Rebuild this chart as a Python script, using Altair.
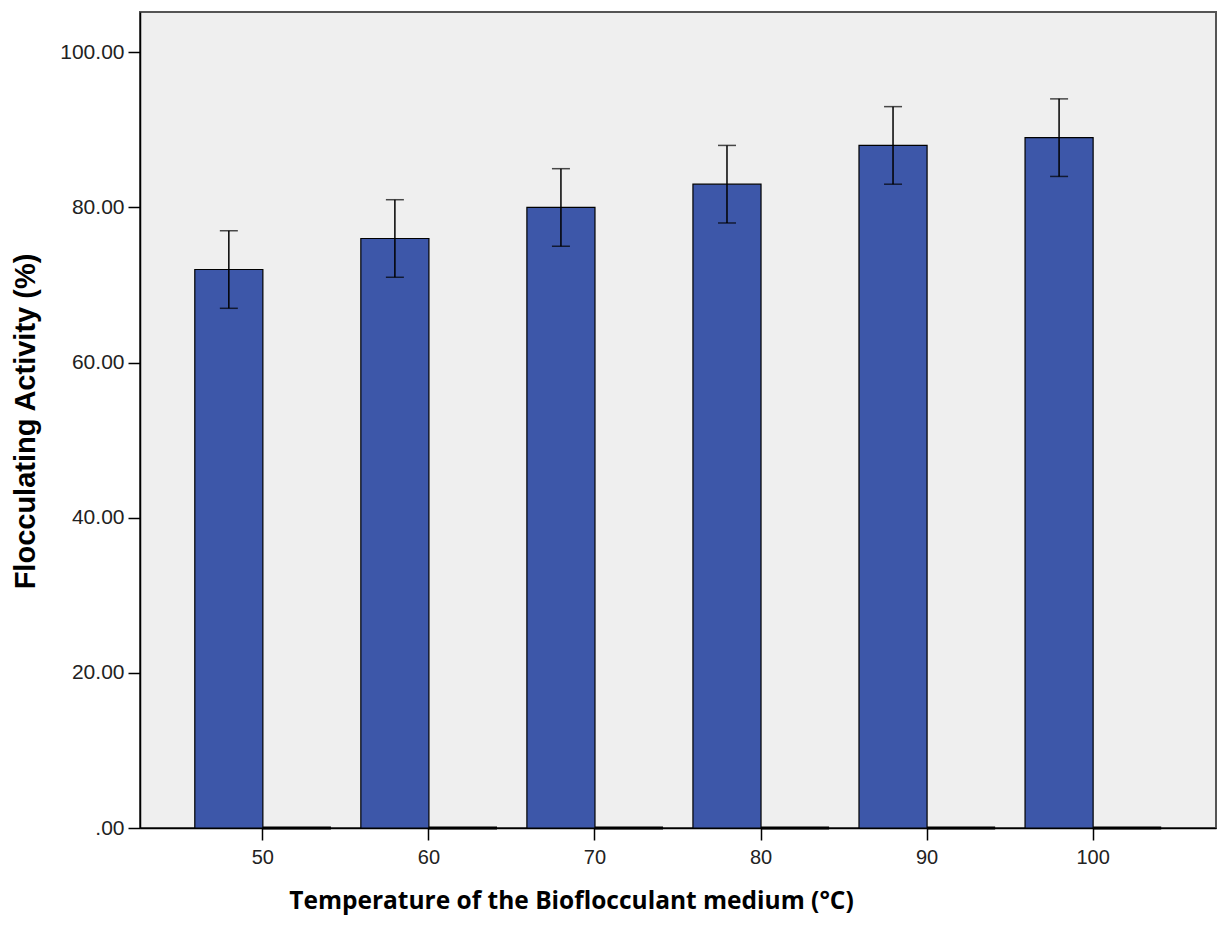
import altair as alt
import pandas as pd

temps = ["50", "60", "70", "80", "90", "100"]
activity = [72.0, 76.0, 80.0, 83.0, 88.0, 89.0]
err_low = [67.0, 71.0, 75.0, 78.0, 83.0, 84.0]
err_high = [77.0, 81.0, 85.0, 88.0, 93.0, 94.0]
second_series = [0.0, 0.0, 0.0, 0.0, 0.0, 0.0]

bars = pd.DataFrame(
    [{"temp": t, "series": "A", "value": v} for t, v in zip(temps, activity)]
    + [{"temp": t, "series": "B", "value": v} for t, v in zip(temps, second_series)]
)
errs = pd.DataFrame({"temp": temps, "series": ["A"] * 6, "lo": err_low, "hi": err_high})

xenc = alt.X(
    "temp:N",
    sort=temps,
    scale=alt.Scale(paddingInner=0.18, paddingOuter=0.33),
    axis=alt.Axis(
        title="Temperature of the Bioflocculant medium (°C)",
        titleFont="Open Sans",
        titleFontSize=24.5,
        titleFontWeight="bold",
        titleColor="black",
        titleX=431,
        titleY=61,
        titleAlign="center",
        titleBaseline="top",
        labelFont="Liberation Sans",
        labelFontSize=20,
        labelColor="#222",
        labelPadding=7,
        labelAngle=0,
        tickSize=12,
        tickColor="black",
        tickWidth=1.5,
        domainColor="black",
        domainWidth=1.5,
    ),
)
xoff = alt.XOffset("series:N", scale=alt.Scale(domain=["A", "B"], paddingInner=0, paddingOuter=0))

yscale = alt.Scale(domain=[0, 105.2], nice=False, zero=True)

bar = alt.Chart(bars).mark_bar(stroke="black", strokeWidth=1.2).encode(
    x=xenc,
    xOffset=xoff,
    y=alt.Y(
        "value:Q",
        scale=yscale,
        axis=alt.Axis(
            title="Flocculating Activity (%)",
            titleFont="Liberation Sans",
            titleFontSize=29,
            titleFontWeight="bold",
            titleColor="black",
            titleAngle=270,
            titleX=-106,
            titleY=409,
            titleAlign="center",
            titleBaseline="alphabetic",
            values=[0, 20, 40, 60, 80, 100],
            labelExpr="datum.value == 0 ? '.00' : format(datum.value, '.2f')",
            labelFont="Liberation Sans",
            labelFontSize=21,
            labelColor="#222",
            labelPadding=4,
            tickSize=12,
            tickColor="black",
            tickWidth=1.5,
            domainColor="black",
            domainWidth=1.5,
            grid=False,
        ),
    ),
    color=alt.Color(
        "series:N",
        scale=alt.Scale(domain=["A", "B"], range=["#3d57a9", "#000000"]),
        legend=None,
    ),
    strokeWidth=alt.StrokeWidth(
        "series:N", scale=alt.Scale(domain=["A", "B"], range=[1.2, 3]), legend=None
    ),
)

rule = alt.Chart(errs).mark_rule(color="black", strokeWidth=1.5).encode(
    x=alt.X("temp:N", sort=temps),
    xOffset=alt.XOffset("series:N"),
    y=alt.Y("lo:Q", scale=yscale),
    y2="hi:Q",
)
cap_hi = alt.Chart(errs).mark_tick(color="black", thickness=1.5, size=18, orient="horizontal").encode(
    x=alt.X("temp:N", sort=temps),
    xOffset=alt.XOffset("series:N"),
    y=alt.Y("hi:Q", scale=yscale),
)
cap_lo = alt.Chart(errs).mark_tick(color="black", thickness=1.5, size=18, orient="horizontal").encode(
    x=alt.X("temp:N", sort=temps),
    xOffset=alt.XOffset("series:N"),
    y=alt.Y("lo:Q", scale=yscale),
)

chart = (
    alt.layer(bar, rule, cap_hi, cap_lo)
    .properties(
        width=1076,
        height=816,
        autosize=alt.AutoSizeParams(type="none"),
        padding={"left": 140, "top": 12, "right": 3, "bottom": 97},
        background="white",
    )
    .configure_view(fill="#efefef", stroke="#555555", strokeWidth=2)
)

chart.save("out.html", embed_options={"renderer": "svg", "actions": False})
